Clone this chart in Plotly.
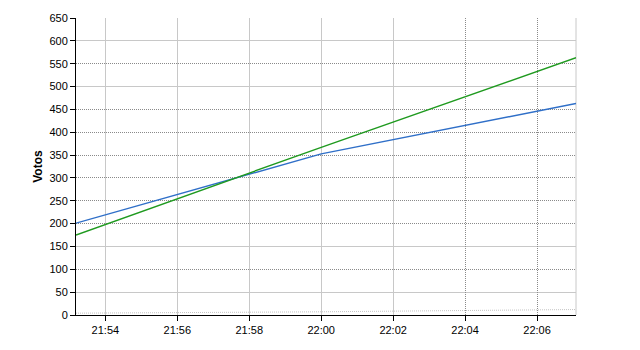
import plotly.graph_objects as go

DAY = "2024-01-01 "

# Data
times = ["21:53:11", "22:00:00", "22:07:05"]
blue_votes = [201, 352.5, 463]
green_votes = [175, 367, 563]
grey_times = ["21:53:11", "21:57:00", "22:00:00", "22:07:05"]
grey_votes = [4, 5.5, 7, 12]

y_ticks = list(range(0, 651, 50))
y_solid_grid = [50, 150, 500, 600]
y_dotted_grid = [v for v in y_ticks if v not in y_solid_grid and v != 0]
x_ticks = ["21:54", "21:56", "21:58", "22:00", "22:02", "22:04", "22:06"]
x_solid_grid = ["21:54", "21:56", "21:58", "22:00", "22:02"]
x_dotted_grid = ["22:04", "22:06"]
x_range = ["21:53:11", "22:07:05"]

def dt(s):
    return DAY + (s if s.count(":") == 2 else s + ":00")

fig = go.Figure()

fig.add_trace(go.Scatter(x=[dt(t) for t in grey_times], y=grey_votes, mode="lines",
                         line=dict(color="#c4c4c4", width=1, dash="1px,1px"),
                         showlegend=False, hoverinfo="skip"))
fig.add_trace(go.Scatter(x=[dt(t) for t in times], y=blue_votes, mode="lines",
                         line=dict(color="#2f6fc8", width=1.4), showlegend=False))
fig.add_trace(go.Scatter(x=[dt(t) for t in times], y=green_votes, mode="lines",
                         line=dict(color="#1f9a1f", width=1.4), showlegend=False))

font = dict(family="Liberation Sans, Arial, sans-serif", size=11, color="#000")
rng = [dt(x_range[0]), dt(x_range[1])]

fig.update_layout(
    width=640, height=350,
    margin=dict(l=76, r=64, t=15, b=35),
    paper_bgcolor="white", plot_bgcolor="white",
    font=font,
    xaxis=dict(range=rng, type="date", tickvals=[dt(t) for t in x_ticks], ticktext=x_ticks,
               showgrid=False, zeroline=False, showline=True, linecolor="#000", linewidth=1,
               ticks="outside", ticklen=5, tickcolor="#000", tickfont=font),
    yaxis=dict(range=[0, 650], tickvals=y_ticks, showgrid=False, zeroline=False,
               showline=True, linecolor="#000", linewidth=1,
               ticks="outside", ticklen=5, tickcolor="#000", tickfont=font,
               title=dict(text="<b>Votos</b>", font=dict(family="Liberation Sans, Arial, sans-serif", size=12, color="#000"), standoff=4)),
    xaxis2=dict(range=rng, type="date", overlaying="x", tickvals=[dt(t) for t in x_solid_grid],
                showticklabels=False, ticks="", showgrid=True, gridcolor="#c8c8c8", gridwidth=1,
                zeroline=False, showline=False),
    xaxis3=dict(range=rng, type="date", overlaying="x", tickvals=[dt(t) for t in x_dotted_grid],
                showticklabels=False, ticks="", showgrid=True, gridcolor="#8a8a8a", gridwidth=1,
                griddash="1px,1px", zeroline=False, showline=False),
    yaxis2=dict(range=[0, 650], overlaying="y", tickvals=y_solid_grid, showticklabels=False,
                ticks="", showgrid=True, gridcolor="#c8c8c8", gridwidth=1, zeroline=False, showline=False),
    yaxis3=dict(range=[0, 650], overlaying="y", tickvals=y_dotted_grid, showticklabels=False,
                ticks="", showgrid=True, gridcolor="#8a8a8a", gridwidth=1, griddash="1px,1px",
                zeroline=False, showline=False),
    shapes=[dict(type="line", xref="paper", yref="paper", x0=1, x1=1, y0=0, y1=1,
                 line=dict(color="#c8c8c8", width=1), layer="below")],
)

# invisible traces to activate the grid axes
fig.add_trace(go.Scatter(x=[rng[0]], y=[0], xaxis="x2", yaxis="y2", mode="markers",
                         marker=dict(opacity=0), showlegend=False, hoverinfo="skip"))
fig.add_trace(go.Scatter(x=[rng[0]], y=[0], xaxis="x3", yaxis="y3", mode="markers",
                         marker=dict(opacity=0), showlegend=False, hoverinfo="skip"))

fig.write_html("out.html")
